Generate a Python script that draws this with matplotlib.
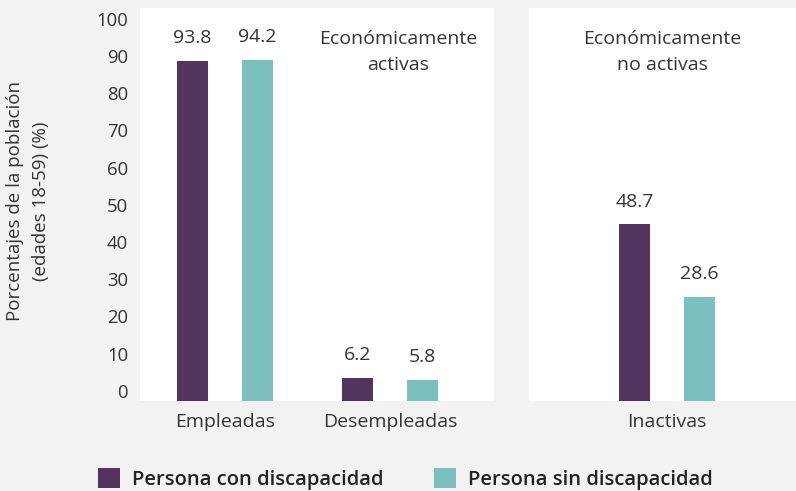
import matplotlib

matplotlib.use("Agg")

import matplotlib.pyplot as plt
from matplotlib.patches import Patch


# datos
CATEGORIAS_ACTIVAS = ["Empleadas", "Desempleadas"]
CATEGORIAS_INACTIVAS = ["Inactivas"]

CON_DISCAPACIDAD_ACTIVAS = [93.8, 6.2]
SIN_DISCAPACIDAD_ACTIVAS = [94.2, 5.8]
CON_DISCAPACIDAD_INACTIVAS = [48.7]
SIN_DISCAPACIDAD_INACTIVAS = [28.6]

SERIES = ["Persona con discapacidad", "Persona sin discapacidad"]
TITULOS_PANEL = ["Económicamente\nactivas", "Económicamente\nno activas"]
TICKS_Y = list(range(0, 101, 10))

COLOR_CON = "#52345e"
COLOR_SIN = "#7bbfbf"
COLOR_FONDO = "#f2f2f2"
COLOR_TEXTO = "#333333"

ANCHO_BARRA = 0.188
DESPLAZAMIENTO = 0.197

plt.rcParams["font.family"] = ["Open Sans", "DejaVu Sans"]


def dibujar_panel(ax, categorias, con, sin, titulo, titulo_x):
    x_posiciones = list(range(len(categorias)))

    x_con = [x - DESPLAZAMIENTO for x in x_posiciones]
    x_sin = [x + DESPLAZAMIENTO for x in x_posiciones]

    ax.bar(x_con, con, width=ANCHO_BARRA, color=COLOR_CON, zorder=2)
    ax.bar(x_sin, sin, width=ANCHO_BARRA, color=COLOR_SIN, zorder=2)

    for posicion_x, valor in list(zip(x_con, con)) + list(zip(x_sin, sin)):
        ax.annotate(
            f"{valor:.1f}",
            (posicion_x, valor),
            textcoords="offset points",
            xytext=(0, 16.5),
            ha="center",
            va="center",
            fontsize=14,
            color=COLOR_TEXTO,
        )

    ax.set_ylim(0, 108.5)
    ax.set_xticks(x_posiciones)
    ax.set_xticklabels(categorias, fontsize=14, color=COLOR_TEXTO)
    ax.tick_params(axis="x", length=0, pad=9)
    ax.set_yticks([])

    for spine in ax.spines.values():
        spine.set_visible(False)

    ax.set_facecolor("white")

    ax.text(
        titulo_x,
        0.889,
        titulo,
        transform=ax.transAxes,
        ha="center",
        va="center",
        fontsize=14,
        color=COLOR_TEXTO,
        linespacing=1.58,
    )


def main():
    fig = plt.figure(figsize=(7.96, 4.91), dpi=100, facecolor=COLOR_FONDO)

    ax_activas = fig.add_axes([0.1759, 0.1839, 0.4447, 0.7998])
    ax_inactivas = fig.add_axes([0.6646, 0.1839, 0.3354, 0.7998])

    dibujar_panel(
        ax_activas,
        CATEGORIAS_ACTIVAS,
        CON_DISCAPACIDAD_ACTIVAS,
        SIN_DISCAPACIDAD_ACTIVAS,
        TITULOS_PANEL[0],
        0.729,
    )
    ax_activas.set_xlim(-0.515, 1.63)

    dibujar_panel(
        ax_inactivas,
        CATEGORIAS_INACTIVAS,
        CON_DISCAPACIDAD_INACTIVAS,
        SIN_DISCAPACIDAD_INACTIVAS,
        TITULOS_PANEL[1],
        0.5,
    )
    ax_inactivas.set_xlim(-0.836, 0.782)

    # eje de las etiquetas de y, un poco desplazado respecto a las barras
    ax_ticks = ax_activas.twinx()
    ax_ticks.yaxis.set_ticks_position("left")
    ax_ticks.set_ylim(-2.69, 102.9)
    ax_ticks.set_yticks(TICKS_Y)
    ax_ticks.set_yticklabels([str(t) for t in TICKS_Y], fontsize=13.3, color=COLOR_TEXTO)
    ax_ticks.tick_params(axis="y", length=0, pad=8.5)
    for spine in ax_ticks.spines.values():
        spine.set_visible(False)

    fig.text(
        0.035,
        0.591,
        "Porcentajes de la población\n(edades 18-59) (%)",
        rotation=90,
        ha="center",
        va="center",
        fontsize=13.5,
        color=COLOR_TEXTO,
        linespacing=1.6,
    )

    handles = [
        Patch(facecolor=COLOR_CON, edgecolor="none"),
        Patch(facecolor=COLOR_SIN, edgecolor="none"),
    ]
    leyenda = fig.legend(
        handles,
        SERIES,
        loc="center",
        bbox_to_anchor=(0.509, 0.025),
        ncol=2,
        frameon=False,
        fontsize=14.5,
        handlelength=1.1,
        handleheight=1.15,
        handletextpad=0.6,
        columnspacing=2.5,
    )
    for texto in leyenda.get_texts():
        texto.set_color("#222222")
        texto.set_fontweight("semibold")

    fig.savefig("out.png", dpi=100, facecolor=COLOR_FONDO)
    plt.close(fig)


if __name__ == "__main__":
    main()
